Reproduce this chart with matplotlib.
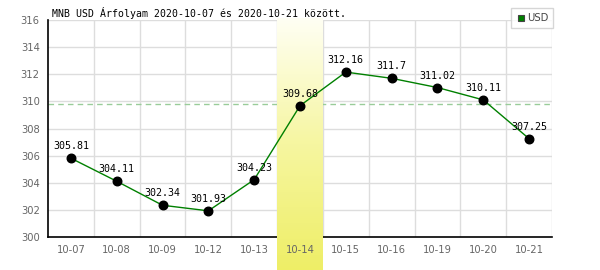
import matplotlib
matplotlib.use('Agg')
import matplotlib.pyplot as plt
import numpy as np
from matplotlib.lines import Line2D

# data
days = ['10-07', '10-08', '10-09', '10-12', '10-13', '10-14',
        '10-15', '10-16', '10-19', '10-20', '10-21']
usd = [305.81, 304.11, 302.34, 301.93, 304.23, 309.68,
       312.16, 311.7, 311.02, 310.11, 307.25]
labels = ['305.81', '304.11', '302.34', '301.93', '304.23', '309.68',
          '312.16', '311.7', '311.02', '310.11', '307.25']
ref_level = 309.8
highlight = '10-14'
title = 'MNB USD Árfolyam 2020-10-07 és 2020-10-21 között.'

fig = plt.figure(figsize=(6, 2.7), dpi=100)
ax = fig.add_axes([0.08, 0.1222, 0.84, 0.8037])

x = np.arange(len(days))
ax.set_xlim(-0.5, len(days) - 0.5)
ax.set_ylim(300, 316)

# grid, drawn by hand so the band can sit over it
for yv in range(302, 317, 2):
    ax.axhline(yv, color='#dddddd', lw=1, zorder=1)
for xv in np.arange(0.5, len(days), 1):
    ax.axvline(xv, color='#dddddd', lw=1, zorder=1)
ax.grid(False)

ax.axhline(ref_level, color='#99cc99', lw=1, ls=(0, (4, 3)), zorder=1.2)

# highlighted day: white -> yellow gradient running below the axis
hi = days.index(highlight)
grad = np.linspace(0, 1, 256).reshape(-1, 1)
cmap = matplotlib.colors.LinearSegmentedColormap.from_list(
    'band', ['#fffff4', '#f6f6a0', '#eeee66'])
ax.imshow(grad, cmap=cmap, aspect='auto', origin='upper',
          extent=(hi - 0.5, hi + 0.5, 297.5, 316.1),
          zorder=3, clip_on=False, interpolation='bilinear')

ax.plot(x, usd, color='#008000', lw=1, zorder=4)
ax.scatter(x, usd, s=38, color='black', zorder=5)
for xi, yi, t in zip(x, usd, labels):
    ax.annotate(t, (xi, yi), xytext=(0, 5), textcoords='offset points',
                ha='center', va='bottom', fontsize=7.2,
                family='DejaVu Sans Mono', color='black', zorder=6)

for side in ['top', 'right']:
    ax.spines[side].set_visible(False)
for side in ['left', 'bottom']:
    ax.spines[side].set_color('black')
    ax.spines[side].set_linewidth(1.2)
    ax.spines[side].set_zorder(2)

ax.set_xticks(x)
ax.set_xticklabels(days)
ax.set_yticks(range(300, 317, 2))
ax.tick_params(length=0, labelsize=7.2, colors='#666666', pad=6)
ax.xaxis.set_zorder(6)
ax.yaxis.set_zorder(6)

fig.text(52 / 600, 1 - 17 / 270, title, fontsize=7.1,
         family='DejaVu Sans Mono', color='black', ha='left', va='baseline')

handle = Line2D([], [], marker='s', ls='none', markersize=5,
                markerfacecolor='#008000', markeredgecolor='#444444',
                markeredgewidth=0.8)
leg = ax.legend([handle], ['USD'], loc='upper right',
                bbox_to_anchor=(553 / 600, 1 - 8 / 270),
                bbox_transform=fig.transFigure, fontsize=7.2,
                frameon=True, fancybox=False, borderpad=0.5,
                handletextpad=0.1, handlelength=1.0, borderaxespad=0)
leg.get_frame().set_edgecolor('#cccccc')
leg.get_frame().set_linewidth(1)
for t in leg.get_texts():
    t.set_color('#444444')
leg.set_zorder(7)

plt.savefig('out.png', dpi=100)
